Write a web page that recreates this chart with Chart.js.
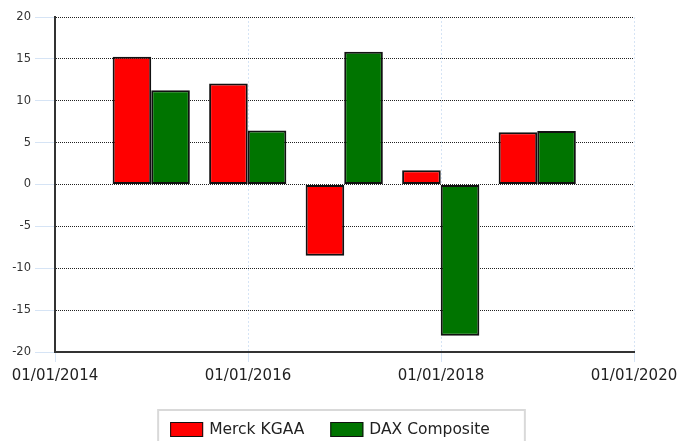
<!DOCTYPE html>
<html>
<head>
<meta charset="utf-8">
<script src="https://cdn.jsdelivr.net/npm/chart.js@4.4.1/dist/chart.umd.min.js"></script>
<style>
  html, body { margin: 0; padding: 0; background: #fff; }
  #wrap { position: relative; width: 678px; height: 441px; }
</style>
</head>
<body>
<div id="wrap"><canvas id="chart"></canvas></div>
<script>
// annual returns, plotted at the end of each year
const periodEnds = ['31/12/2014', '31/12/2015', '31/12/2016', '31/12/2017', '31/12/2018'];
const merckValues = [15.25, 12.05, -8.5, 1.7, 6.25];
const daxValues = [11.25, 6.45, 15.85, -18.05, 6.4];
const seriesNames = ['Merck KGAA', 'DAX Composite'];
const seriesColors = ['#ff0000', '#007400'];
const xTickYears = [2014, 2016, 2018, 2020];
const xTickLabels = ['01/01/2014', '01/01/2016', '01/01/2018', '01/01/2020'];
const yMin = -20, yMax = 20, yStep = 5;

// dd/mm/yyyy -> fractional year
function toYear(s) {
  const [d, m, y] = s.split('/').map(Number);
  const start = Date.UTC(y, 0, 1);
  const len = Date.UTC(y + 1, 0, 1) - start;
  return y + (Date.UTC(y, m - 1, d) - start) / len;
}

const xs = periodEnds.map(toYear);
const toPoints = (vals) => vals.map((v, i) => ({ x: xs[i], y: v }));

const boxLegend = {
  id: 'boxLegend',
  afterDraw(chart) {
    const ctx = chart.ctx;
    const items = chart.data.datasets;
    const swatchW = 33, swatchH = 15, gap = 6, itemGap = 26, top = 410;
    ctx.save();
    ctx.font = '15.5px "DejaVu Sans"';
    const widths = items.map(ds => swatchW + gap + ctx.measureText(ds.label).width);
    const total = widths.reduce((a, b) => a + b, 0) + itemGap * (items.length - 1);
    let x = chart.width / 2 - 9 - total / 2;
    ctx.strokeStyle = '#d9d9d9';
    ctx.lineWidth = 2;
    ctx.strokeRect(x - 12, top, total + 47, 40);
    ctx.textBaseline = 'middle';
    items.forEach((ds, i) => {
      ctx.fillStyle = ds.backgroundColor;
      ctx.fillRect(x, top + 12, swatchW, swatchH);
      ctx.strokeStyle = '#111';
      ctx.lineWidth = 1;
      ctx.strokeRect(x + 0.5, top + 12.5, swatchW - 1, swatchH - 1);
      ctx.fillStyle = '#222';
      ctx.fillText(ds.label, x + swatchW + gap, top + 19.5);
      x += widths[i] + itemGap;
    });
    ctx.restore();
  }
};

new Chart(document.getElementById('chart'), {
  type: 'bar',
  data: {
    datasets: [
      { label: seriesNames[0], data: toPoints(merckValues), backgroundColor: seriesColors[0] },
      { label: seriesNames[1], data: toPoints(daxValues), backgroundColor: seriesColors[1] }
    ]
  },
  options: {
    responsive: true,
    maintainAspectRatio: false,
    animation: false,
    layout: { padding: { top: 17, right: 44, bottom: 50, left: 0 } },
    datasets: {
      bar: {
        borderColor: '#111',
        borderWidth: 2,
        borderSkipped: false,
        categoryPercentage: 0.8,
        barPercentage: 1.0
      }
    },
    plugins: {
      legend: { display: false },
      tooltip: { enabled: false }
    },
    scales: {
      x: {
        type: 'linear',
        min: xTickYears[0],
        max: xTickYears[xTickYears.length - 1],
        offset: false,
        afterFit: (scale) => {
          scale.height = 39;
          scale.paddingLeft = 0;
          scale.paddingRight = 0;
        },
        grid: {
          offset: false,
          color: '#d6e4f5',
          lineWidth: 1,
          tickLength: 10,
          tickColor: '#d6e4f5'
        },
        border: { display: true, color: '#333', width: 2, dash: [2, 2] },
        ticks: {
          stepSize: 2,
          autoSkip: false,
          maxRotation: 0,
          padding: 5,
          color: '#222',
          font: { family: 'DejaVu Sans', size: 15 },
          callback: (v) => {
            const i = xTickYears.indexOf(v);
            return i >= 0 ? xTickLabels[i] : '';
          }
        }
      },
      y: {
        min: yMin,
        max: yMax,
        afterFit: (scale) => { scale.width = 55; },
        grid: {
          color: '#222',
          lineWidth: 1,
          tickLength: 20,
          tickColor: '#d6e4f5'
        },
        border: { display: true, color: '#333', width: 2, dash: [1, 1] },
        ticks: {
          stepSize: yStep,
          padding: 4,
          color: '#333',
          font: { family: 'DejaVu Sans', size: 11.5 }
        }
      }
    }
  },
  plugins: [boxLegend]
});
</script>
</body>
</html>
